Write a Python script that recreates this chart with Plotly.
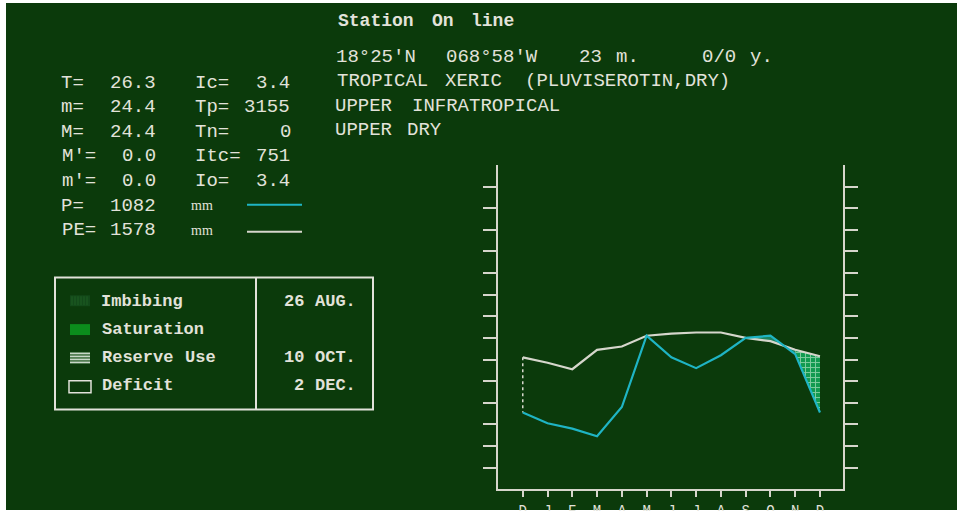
import plotly.graph_objects as go

W, H = 957, 519

# ---------------- data ----------------
months = ["D", "J", "F", "M", "A", "M", "J", "J", "A", "S", "O", "N", "D"]
pe_mm = [122, 117, 111, 129, 132, 142, 144, 145, 145, 140, 137, 129, 123]
p_mm = [71, 61, 56, 49, 76, 142, 122, 112, 124, 140, 142, 125, 71]
y_ticks = list(range(20, 300, 20))

header_title = "Station On line"
header_lines = [
    "18°25'N  068°58'W   23 m.     0/0 y.",
    "TROPICAL XERIC (PLUVISEROTIN,DRY)",
    "UPPER INFRATROPICAL",
    "UPPER DRY",
]
index_lines = [
    "T=  26.3   Ic=  3.4",
    "m=  24.4   Tp= 3155",
    "M=  24.4   Tn=    0",
    "M'=  0.0   Itc= 751",
    "m'=  0.0   Io=  3.4",
    "P=  1082",
    "PE= 1578",
]
unit_label = "mm"
legend_labels = ["Imbibing", "Saturation", "Reserve Use", "Deficit"]
legend_dates = ["26 AUG.", "", "10 OCT.", "2 DEC."]

# ---------------- styles ----------------
BG = "#0b3a0b"
TXT = "#e2e2da"
PE_COL = "#d6d6cc"
P_COL = "#1fb4c4"
FONT = "Liberation Mono"


def X(px):
    return px / W


def Y(py):
    return 1 - py / H


annotations = []
shapes = []


def words(s):
    out, i = [], 0
    while i < len(s):
        if s[i] == " ":
            i += 1
            continue
        j = i
        while j < len(s) and s[j] != " ":
            j += 1
        out.append((i, s[i:j]))
        i = j
    return out


def put_line(s, x0, y, pitch, size, bold=False, right_end=None):
    if right_end is not None:
        x0 = right_end - len(s) * pitch
    for i, w in words(s):
        xc = x0 + (i + len(w) / 2) * pitch
        annotations.append(dict(
            x=X(xc), y=Y(y), xref="paper", yref="paper",
            text=f"<b>{w}</b>" if bold else w, showarrow=False,
            xanchor="center", yanchor="middle",
            font=dict(family=FONT, size=size, color=TXT)))


# header block
put_line(header_title, 333, 21, 12.25, 18, bold=True)
for k, s in enumerate(header_lines):
    put_line(s, 333, 57.5 + k * 24.4, 12.25, 19)

# index block
for k, s in enumerate(index_lines):
    put_line(s, 60.5, 83 + k * 24.75, 12.15, 19)
for yy in (206.5, 231.5):
    annotations.append(dict(x=X(202), y=Y(yy), xref="paper", yref="paper",
                            text=unit_label, showarrow=False, xanchor="center",
                            yanchor="middle",
                            font=dict(family="Liberation Serif", size=14, color=TXT)))
# sample lines
shapes.append(dict(type="line", xref="paper", yref="paper", x0=X(247), x1=X(302),
                   y0=Y(206), y1=Y(206), line=dict(color=P_COL, width=2)))
shapes.append(dict(type="line", xref="paper", yref="paper", x0=X(247), x1=X(302),
                   y0=Y(233), y1=Y(233), line=dict(color=PE_COL, width=2)))

# legend box
shapes.append(dict(type="rect", xref="paper", yref="paper", x0=X(55), x1=X(373),
                   y0=Y(412), y1=Y(279), line=dict(color=TXT, width=2)))
shapes.append(dict(type="line", xref="paper", yref="paper", x0=X(256), x1=X(256),
                   y0=Y(412), y1=Y(279), line=dict(color=TXT, width=2)))
leg_rows = [303, 331.5, 360, 388]
for lab, dt, yy in zip(legend_labels, legend_dates, leg_rows):
    put_line(lab, 100, yy, 10.6, 17, bold=True)
    if dt:
        put_line(dt, 0, yy, 10.4, 17, bold=True, right_end=356)
# swatches
shapes.append(dict(type="rect", xref="paper", yref="paper", x0=X(70), x1=X(90),
                   y0=Y(308), y1=Y(297), fillcolor="#13491a", line=dict(width=0)))
for sx in (72, 75, 78, 81, 84, 87):
    shapes.append(dict(type="line", xref="paper", yref="paper", x0=X(sx), x1=X(sx),
                       y0=Y(307), y1=Y(298), line=dict(color="#1e5e22", width=1)))
shapes.append(dict(type="rect", xref="paper", yref="paper", x0=X(70), x1=X(90),
                   y0=Y(337), y1=Y(326), fillcolor="#0b8c1c", line=dict(width=0)))
shapes.append(dict(type="rect", xref="paper", yref="paper", x0=X(70), x1=X(90),
                   y0=Y(366), y1=Y(354), fillcolor="#3e6e3e", line=dict(width=0)))
for sy in (355.5, 358.5, 361.5, 364.5):
    shapes.append(dict(type="line", xref="paper", yref="paper", x0=X(70), x1=X(90),
                       y0=Y(sy), y1=Y(sy), line=dict(color="#c8d6c8", width=1.5)))
shapes.append(dict(type="rect", xref="paper", yref="paper", x0=X(69), x1=X(91),
                   y0=Y(395), y1=Y(383), line=dict(color=TXT, width=1.5)))

# background frame
shapes.insert(0, dict(type="rect", xref="paper", yref="paper", x0=X(6), x1=1,
                      y0=Y(513), y1=Y(3), fillcolor=BG, line=dict(width=0),
                      layer="below"))
shapes.append(dict(type="rect", xref="paper", yref="paper", x0=0, x1=1,
                   y0=0, y1=Y(514), fillcolor="white", line=dict(width=0),
                   layer="above"))

# ---------------- traces ----------------
xs = list(range(len(months)))
fig = go.Figure()

# overlap (Sep-Nov)
fig.add_trace(go.Scatter(
    x=xs[9:12] + xs[9:12][::-1],
    y=pe_mm[9:12] + p_mm[9:12][::-1],
    fill="toself", fillcolor="rgba(40,180,150,0.6)", line=dict(width=0),
    mode="lines", hoverinfo="skip", showlegend=False))
# reserve use (Nov-Dec)
fig.add_trace(go.Scatter(
    x=[xs[11], xs[12], xs[12], xs[11]],
    y=[pe_mm[11], pe_mm[12], p_mm[12], p_mm[11]],
    fill="toself", fillcolor="#18a860",
    fillpattern=dict(shape="+", fgcolor="#f0fff0", bgcolor="#119a50", size=5,
                     solidity=0.35),
    line=dict(width=0), mode="lines", hoverinfo="skip", showlegend=False))
# dotted connector at the first month
fig.add_trace(go.Scatter(
    x=[xs[0], xs[0]], y=[pe_mm[0], p_mm[0]], mode="lines",
    line=dict(color=PE_COL, width=1.5, dash="dot"), showlegend=False))
fig.add_trace(go.Scatter(x=xs, y=pe_mm, mode="lines", name="PE",
                         line=dict(color=PE_COL, width=2.2), showlegend=False))
fig.add_trace(go.Scatter(x=xs, y=p_mm, mode="lines", name="P",
                         line=dict(color=P_COL, width=2.2), showlegend=False))

fig.update_layout(
    width=W, height=H, autosize=False,
    margin=dict(l=0, r=0, t=0, b=0),
    paper_bgcolor="white", plot_bgcolor="rgba(0,0,0,0)",
    shapes=shapes, annotations=annotations,
    xaxis=dict(domain=[X(498), X(843)], range=[-1, 12.93], showgrid=False,
               zeroline=False, showline=True, linecolor=PE_COL, linewidth=2,
               ticks="outside", ticklen=6, tickwidth=2, tickcolor=PE_COL,
               tickvals=xs, ticktext=months, ticklabelstandoff=1,
               tickfont=dict(family=FONT, size=14, color=TXT)),
    yaxis=dict(domain=[Y(492), Y(166)], range=[0, 300], showgrid=False,
               zeroline=False, showline=True, mirror="ticks", linecolor=PE_COL,
               linewidth=2, ticks="outside", ticklen=13, tickwidth=2,
               tickcolor=PE_COL, tickvals=y_ticks, showticklabels=False),
)

fig.write_html(
    "out.html",
    config={"displayModeBar": False},
    post_script="document.body.style.margin='0';document.body.style.padding='0';"
                "document.body.style.overflow='hidden';",
)
